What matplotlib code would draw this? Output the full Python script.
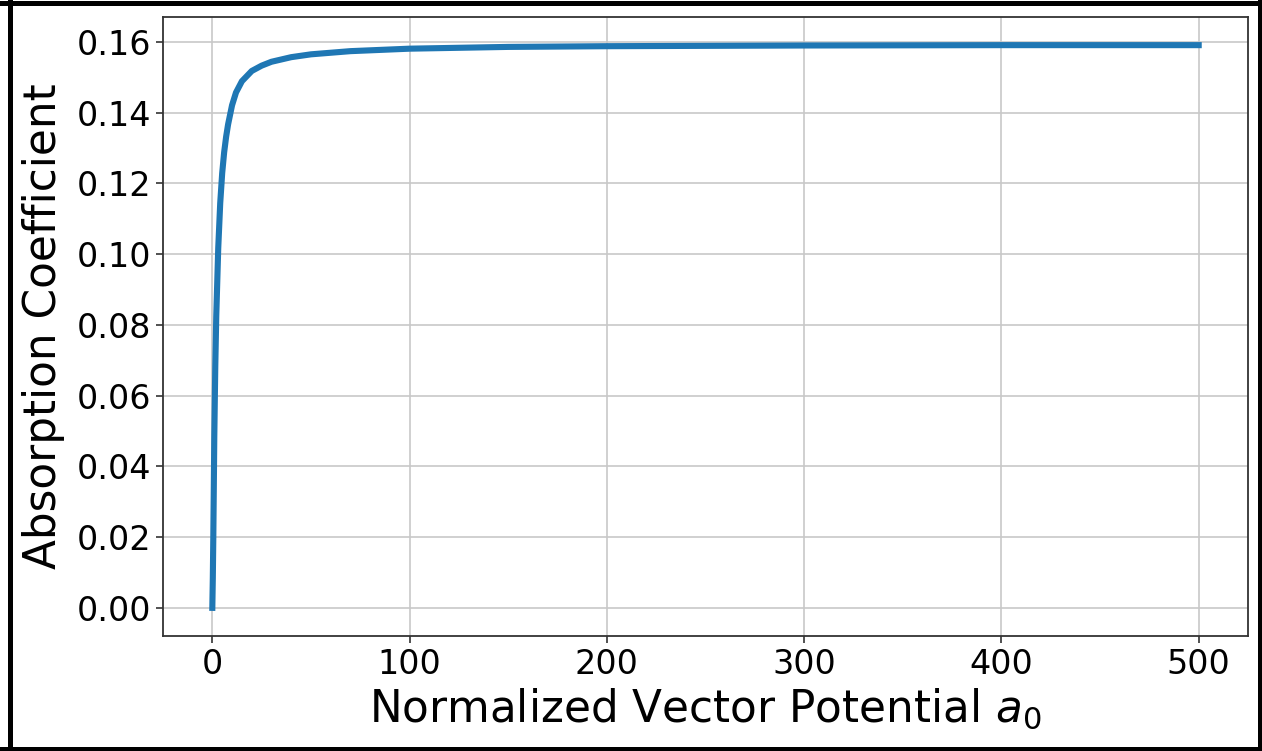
import matplotlib
matplotlib.use("Agg")
import matplotlib.pyplot as plt
from matplotlib.lines import Line2D

a0 = [0, 0.25, 0.5, 0.75, 1, 1.5, 2, 3, 4, 5, 6, 7, 8, 10, 12, 15, 20, 25, 30,
      40, 50, 70, 100, 150, 200, 300, 400, 500]
absorption = [0, 0.0084, 0.0199, 0.0337, 0.0483, 0.0683, 0.0825, 0.1017, 0.1144,
              0.1229, 0.1288, 0.1332, 0.1367, 0.1421, 0.1457, 0.1489, 0.1518,
              0.1533, 0.1544, 0.1557, 0.1565, 0.1574, 0.1581, 0.1586, 0.1588,
              0.1590, 0.1591, 0.1591]

W, H = 1262, 751
fig = plt.figure(figsize=(W / 100, H / 100), dpi=100)
ax = fig.add_axes([163 / W, 1 - 636 / H, (1248 - 163) / W, (636 - 17) / H])

ax.plot(a0, absorption, color="#1f77b4", linewidth=4.4)
ax.grid(True, color="#c8c8c8", linewidth=1.2)
ax.set_axisbelow(True)
ax.set_xticks([0, 100, 200, 300, 400, 500])
ax.set_yticks([0.00, 0.02, 0.04, 0.06, 0.08, 0.10, 0.12, 0.14, 0.16])
ax.set_yticklabels([f"{v:.2f}" for v in ax.get_yticks()])
ax.tick_params(labelsize=24, length=5, width=1.2, color="#333333")
for s in ax.spines.values():
    s.set_color("#333333")
    s.set_linewidth(1.3)
ax.set_xlabel("Normalized Vector Potential $a_0$", fontsize=31.5, labelpad=4)
ax.set_ylabel("Absorption Coefficient", fontsize=31.5, labelpad=8)

# black frame around the figure
lw = 5
for (x0, y0, x1, y1) in [(9.5, 0, 9.5, H), (W - 2.5, 0, W - 2.5, H),
                         (0, 3, W, 3), (0, H - 2.5, W, H - 2.5)]:
    fig.add_artist(Line2D([x0 / W, x1 / W], [1 - y0 / H, 1 - y1 / H],
                          color="black", linewidth=lw * 0.72, transform=fig.transFigure))

fig.savefig("out.png", dpi=100)
